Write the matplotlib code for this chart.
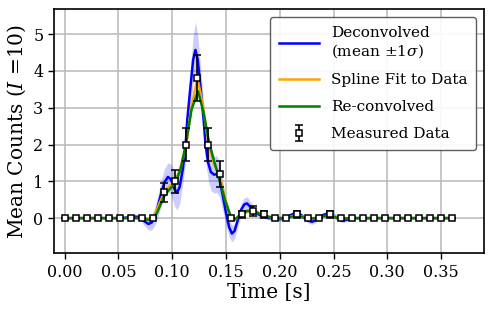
import numpy as np
import matplotlib
matplotlib.use("Agg")
import matplotlib.pyplot as plt

plt.rcParams["font.family"] = ["DejaVu Serif"]
plt.rcParams["mathtext.fontset"] = "dejavuserif"

# Measured data (36 bins from 0 to 0.36 s)
t_data = np.linspace(0, 0.36, 36)
y_data = [0, 0, 0, 0, 0, 0, 0, 0, 0, 0.7, 1.0, 2.0, 3.8, 2.0, 1.2, 0,
          0.1, 0.2, 0.1, 0, 0, 0.1, 0, 0, 0.1, 0, 0, 0, 0, 0, 0, 0, 0, 0, 0, 0]
y_err = [0, 0, 0, 0, 0, 0, 0, 0, 0, 0.26, 0.32, 0.45, 0.62, 0.45, 0.35, 0,
         0.1, 0.14, 0.1, 0, 0, 0.1, 0, 0, 0.1, 0, 0, 0, 0, 0, 0, 0, 0, 0, 0, 0]

# Deconvolved mean and 1-sigma half width
t_dec = [0.0, 0.05, 0.06, 0.066, 0.07, 0.074, 0.078, 0.081, 0.084, 0.087,
         0.09, 0.093, 0.096, 0.099, 0.102, 0.1045, 0.107, 0.11, 0.1125, 0.114,
         0.117, 0.1195, 0.1216, 0.1238, 0.1263, 0.1293, 0.131, 0.1335, 0.136, 0.139,
         0.1415, 0.144, 0.147, 0.15, 0.153, 0.1555, 0.158, 0.161, 0.164, 0.167,
         0.1695, 0.173, 0.177, 0.181, 0.185, 0.19, 0.195, 0.2, 0.205, 0.21,
         0.2155, 0.22, 0.225, 0.23, 0.235, 0.24, 0.245, 0.25, 0.255, 0.259,
         0.264, 0.27, 0.36]
y_dec = [0.0, 0.0, 0.02, 0.04, 0.02, -0.08, -0.16, -0.12, 0.05, 0.35,
         0.7, 0.98, 1.12, 1.05, 0.8, 0.69, 0.85, 1.35, 2.0, 2.66,
         3.57, 4.3, 4.57, 4.3, 3.57, 2.66, 2.0, 1.5, 1.25, 1.18,
         1.2, 1.05, 0.62, 0.15, -0.25, -0.42, -0.35, -0.05, 0.22, 0.37,
         0.4, 0.3, 0.17, 0.09, 0.05, 0.0, -0.02, -0.03, 0.0, 0.08,
         0.15, 0.08, -0.05, -0.1, -0.03, 0.08, 0.13, 0.07, -0.03, -0.07,
         -0.03, 0.0, 0.0]
s_dec = [0.0, 0.02, 0.04, 0.06, 0.07, 0.12, 0.17, 0.2, 0.25, 0.3,
         0.34, 0.37, 0.38, 0.42, 0.46, 0.47, 0.45, 0.4, 0.42, 0.46,
         0.52, 0.65, 0.76, 0.68, 0.55, 0.48, 0.45, 0.46, 0.5, 0.5,
         0.5, 0.47, 0.4, 0.32, 0.26, 0.22, 0.2, 0.18, 0.17, 0.18,
         0.18, 0.14, 0.1, 0.08, 0.06, 0.05, 0.05, 0.05, 0.05, 0.07,
         0.08, 0.07, 0.06, 0.07, 0.06, 0.07, 0.08, 0.07, 0.06, 0.05,
         0.04, 0.02, 0.0]

# Spline fit to data
t_spl = [0.0, 0.075, 0.079, 0.0823, 0.086, 0.0926, 0.098, 0.1029, 0.108, 0.1132,
         0.118, 0.1235, 0.128, 0.1338, 0.139, 0.1441, 0.149, 0.1543, 0.157, 0.1646,
         0.17, 0.1749, 0.18, 0.1852, 0.19, 0.1955, 0.2058, 0.211, 0.216, 0.221,
         0.2263, 0.2366, 0.242, 0.2469, 0.252, 0.2571, 0.36]
y_spl = [0.0, 0.0, -0.03, 0.0, 0.25, 0.7, 0.88, 1.0, 1.4, 2.0,
         3.05, 3.8, 3.15, 2.0, 1.45, 1.2, 0.55, 0.0, -0.07, 0.1,
         0.17, 0.2, 0.15, 0.1, 0.03, 0.0, 0.0, 0.05, 0.1, 0.04,
         0.0, 0.0, 0.05, 0.1, 0.04, 0.0, 0.0]

# Re-convolved
t_rec = [0.0, 0.072, 0.078, 0.082, 0.086, 0.0926, 0.098, 0.103, 0.108, 0.113,
         0.118, 0.124, 0.129, 0.134, 0.139, 0.144, 0.149, 0.154, 0.158, 0.163,
         0.17, 0.176, 0.182, 0.188, 0.195, 0.205, 0.21, 0.216, 0.222, 0.228,
         0.235, 0.241, 0.246, 0.252, 0.258, 0.265, 0.36]
y_rec = [0.0, 0.0, -0.05, -0.03, 0.15, 0.6, 0.8, 0.95, 1.35, 2.05,
         2.95, 3.45, 2.9, 2.1, 1.55, 1.05, 0.5, 0.08, -0.04, 0.08,
         0.2, 0.18, 0.11, 0.05, 0.01, 0.0, 0.03, 0.07, 0.02, -0.02,
         0.01, 0.05, 0.07, 0.02, -0.02, 0.0, 0.0]

fig = plt.figure(figsize=(4.94, 3.14), dpi=100)
ax = fig.add_axes([0.109, 0.194, 0.871, 0.777])

lo = np.array(y_dec) - np.array(s_dec)
hi = np.array(y_dec) + np.array(s_dec)
ax.fill_between(t_dec, lo, hi, color="blue", alpha=0.2, lw=0)
ax.plot(t_dec, y_dec, color="blue", lw=1.8, label="Deconvolved\n(mean $\\pm 1\\sigma$)")
ax.plot(t_spl, y_spl, color="orange", lw=1.8, label="Spline Fit to Data")
ax.plot(t_rec, y_rec, color="green", lw=1.8, label="Re-convolved")
ax.errorbar(t_data, y_data, yerr=y_err, fmt="s", color="black", mfc="white",
            mec="black", ms=4, mew=1.1, elinewidth=1.2, capsize=3, capthick=1.2,
            label="Measured Data", zorder=5)

ax.set_xlim(-0.01, 0.39)
ax.set_ylim(-0.95, 5.68)
ax.set_xticks(np.arange(0, 0.36, 0.05))
ax.set_yticks(range(0, 6))
ax.tick_params(labelsize=11.5, width=1.0, length=4)
for sp in ax.spines.values():
    sp.set_linewidth(1.2)
ax.grid(True, color="0.72", lw=1.1)
ax.set_axisbelow(True)
ax.set_xlabel("Time [s]", fontsize=14.5, labelpad=2)
ax.set_ylabel("Mean Counts ($I$ =10)", fontsize=14.5, labelpad=4)

leg = ax.legend(loc="upper right", fontsize=11, handlelength=2.6,
                labelspacing=0.85, borderpad=0.6, fancybox=True,
                edgecolor="0.3", framealpha=0.9)
leg.get_frame().set_linewidth(1.0)

fig.savefig("out.png", dpi=100)
